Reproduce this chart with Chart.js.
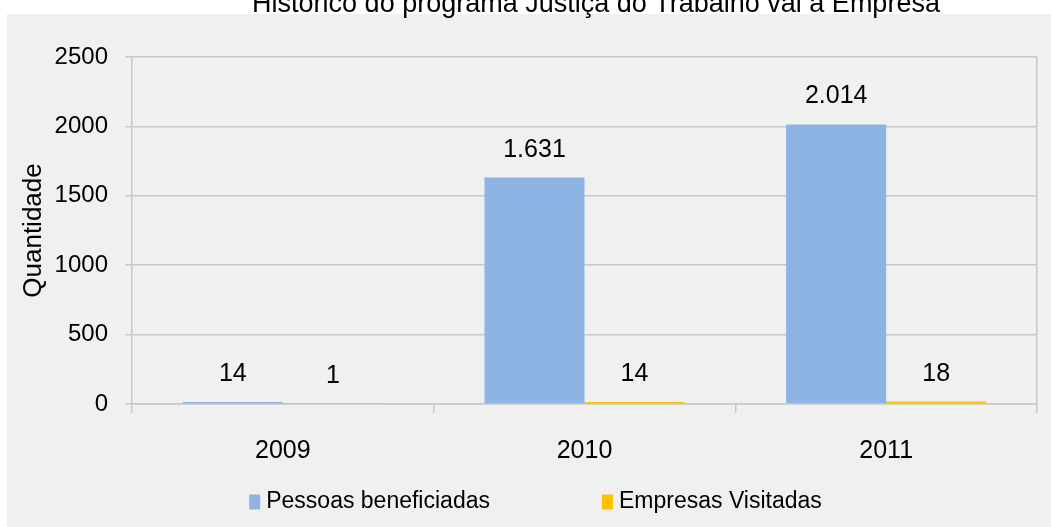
<!DOCTYPE html>
<html>
<head>
<meta charset="utf-8">
<script src="https://cdn.jsdelivr.net/npm/chart.js@4"></script>
<style>
  html, body { margin: 0; padding: 0; background: #fff; }
  #wrap { width: 1051px; height: 527px; position: relative; }
</style>
</head>
<body>
<div id="wrap"><canvas id="histChart"></canvas></div>
<script>
const years = ['2009', '2010', '2011'];
const pessoas = [14, 1631, 2014];
const empresas = [1, 14, 18];
const yMin = 0;
const yMax = 2500;
const yStep = 500;

const chartTitle = 'Histórico do programa Justiça do Trabalho vai à Empresa';
const FONT = '"Liberation Sans", Arial, sans-serif';
const GRID = '#c8c8c8';

// number format like 1.631
function fmt(v) {
  return String(v).replace(/\B(?=(\d{3})+(?!\d))/g, '.');
}

// gray panel + cut title
const backdrop = {
  id: 'backdrop',
  beforeDraw(chart) {
    const ctx = chart.ctx;
    ctx.save();
    ctx.fillStyle = '#f0f0f0';
    ctx.fillRect(7, 14, chart.width - 7, chart.height - 14);
    ctx.fillStyle = '#000';
    ctx.font = '27px ' + FONT;
    ctx.textAlign = 'center';
    ctx.textBaseline = 'alphabetic';
    ctx.fillText(chartTitle, 596, 12);
    ctx.restore();
  }
};

// value labels above bars
const valueLabels = {
  id: 'valueLabels',
  afterDatasetsDraw(chart) {
    const ctx = chart.ctx;
    ctx.save();
    ctx.fillStyle = '#000';
    ctx.font = '25px ' + FONT;
    ctx.textAlign = 'center';
    ctx.textBaseline = 'alphabetic';
    chart.data.datasets.forEach((ds, i) => {
      chart.getDatasetMeta(i).data.forEach((bar, j) => {
        ctx.fillText(fmt(ds.data[j]), bar.x, bar.y - 21);
      });
    });
    ctx.restore();
  }
};

// bottom legend with wide spacing
const wideLegend = {
  id: 'wideLegend',
  afterDraw(chart) {
    const ctx = chart.ctx;
    const gap = 112, box = 11, boxH = 15, textGap = 6;
    ctx.save();
    ctx.font = '23px ' + FONT;
    const items = chart.data.datasets.map(ds => ({
      text: ds.label, color: ds.backgroundColor,
      w: box + textGap + ctx.measureText(ds.label).width
    }));
    const total = items.reduce((s, it) => s + it.w, 0) + gap * (items.length - 1);
    let x = chart.width / 2 + 10 - total / 2;
    const cy = 502;
    items.forEach(it => {
      ctx.fillStyle = it.color;
      ctx.fillRect(x, cy - boxH / 2, box, boxH);
      ctx.fillStyle = '#000';
      ctx.textAlign = 'left';
      ctx.textBaseline = 'middle';
      ctx.fillText(it.text, x + box + textGap, cy);
      x += it.w + gap;
    });
    ctx.restore();
  }
};

new Chart(document.getElementById('histChart'), {
  type: 'bar',
  data: {
    labels: years,
    datasets: [
      { label: 'Pessoas beneficiadas', data: pessoas, backgroundColor: '#8db4e2' },
      { label: 'Empresas Visitadas', data: empresas, backgroundColor: '#ffc000' }
    ]
  },
  options: {
    responsive: true,
    maintainAspectRatio: false,
    devicePixelRatio: 1,
    animation: false,
    layout: { padding: { top: 57, right: 14, bottom: 62, left: 0 } },
    datasets: {
      bar: { categoryPercentage: 0.663, barPercentage: 1.0 }
    },
    scales: {
      x: {
        offset: true,
        grid: {
          offset: true,
          color: c => (c.type !== 'tick') ? GRID : 'transparent',
          tickColor: GRID,
          lineWidth: 1.5,
          tickLength: 9
        },
        border: { color: GRID, width: 1.5 },
        ticks: { color: '#000', font: { family: FONT, size: 25 }, padding: 23 },
        afterFit: s => { s.height = 61; }
      },
      y: {
        min: yMin,
        max: yMax,
        ticks: {
          stepSize: yStep,
          color: '#000',
          font: { family: FONT, size: 24 },
          padding: 17,
          callback: v => String(v)
        },
        grid: { color: GRID, lineWidth: 1.5, tickLength: 7 },
        border: { color: GRID, width: 1.5 },
        title: {
          display: true,
          text: 'Quantidade',
          color: '#000',
          font: { family: FONT, size: 26 },
          padding: { top: 18, bottom: 0 }
        },
        afterFit: s => { s.width = 132; }
      }
    },
    plugins: {
      legend: { display: false },
      tooltip: { enabled: false }
    }
  },
  plugins: [backdrop, valueLabels, wideLegend]
});
</script>
</body>
</html>
